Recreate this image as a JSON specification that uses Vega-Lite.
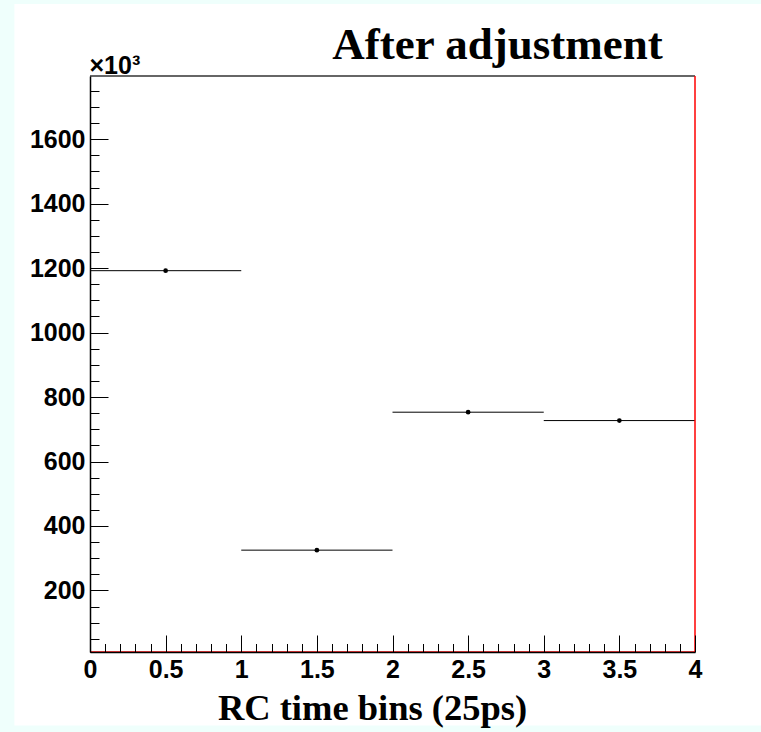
{
  "$schema": "https://vega.github.io/schema/vega-lite/v6.json",
  "width": 605,
  "height": 576,
  "autosize": "none",
  "padding": {"left": 90, "top": 76, "right": 66, "bottom": 80},
  "background": "#effffc",
  "title": {
    "text": "After adjustment",
    "font": "Liberation Serif",
    "fontSize": 45,
    "fontWeight": "bold",
    "color": "black",
    "frame": "group",
    "anchor": "middle",
    "dx": 105,
    "baseline": "alphabetic",
    "offset": -100
  },
  "data": {
    "values": [
      {"lo": 0, "hi": 1, "center": 0.5, "count_k": 1192},
      {"lo": 1, "hi": 2, "center": 1.5, "count_k": 325},
      {"lo": 2, "hi": 3, "center": 2.5, "count_k": 753},
      {"lo": 3, "hi": 4, "center": 3.5, "count_k": 727}
    ]
  },
  "layer": [
    {
      "data": {"values": [{"pad": "canvas"}]},
      "mark": {"type": "rect", "color": "white", "clip": false},
      "encoding": {
        "x": {"datum": -0.5, "type": "quantitative"},
        "x2": {"datum": 4.5},
        "y": {"datum": 2019, "type": "quantitative"},
        "y2": {"datum": -219}
      }
    },
    {
      "data": {"values": [{"edge": "top"}]},
      "mark": {"type": "rule", "color": "#333333", "strokeWidth": 1.5},
      "encoding": {"y": {"datum": 1796, "type": "quantitative"}}
    },
    {
      "mark": {"type": "rule", "color": "black", "strokeWidth": 1},
      "encoding": {
        "x": {
          "field": "lo",
          "type": "quantitative",
          "scale": {"domain": [0, 4], "nice": false, "zero": false},
          "axis": {
            "zindex": 1,
            "title": "RC time bins (25ps)",
            "titleFont": "Liberation Serif",
            "titleFontSize": 36.5,
            "titleFontWeight": "bold",
            "titleColor": "black",
            "titleX": 282,
            "titleY": 67,
            "titleAlign": "center",
            "titleAnchor": null,
            "titleBaseline": "alphabetic",
            "values": [0,0.1,0.2,0.3,0.4,0.5,0.6,0.7,0.8,0.9,1,1.1,1.2,1.3,1.4,1.5,1.6,1.7,1.8,1.9,2,2.1,2.2,2.3,2.4,2.5,2.6,2.7,2.8,2.9,3,3.1,3.2,3.3,3.4,3.5,3.6,3.7,3.8,3.9,4],
            "tickCount": 200,
            "format": "~g",
            "labelExpr": "abs(datum.value*2 - round(datum.value*2)) < 0.001 ? datum.label : ''",
            "tickSize": {"condition": {"test": "abs(datum.value*2 - round(datum.value*2)) < 0.001", "value": -17}, "value": -8.5},
            "tickColor": "black",
            "tickWidth": 1,
            "domainColor": "black",
            "domainWidth": 1.5,
            "labelFont": "Liberation Sans",
            "labelFontSize": 25,
            "labelFontWeight": "bold",
            "labelColor": "black",
            "labelBaseline": "top",
            "labelPadding": 22,
            "labelFlush": false,
            "labelOverlap": false,
            "grid": false
          }
        },
        "x2": {"field": "hi"},
        "y": {
          "field": "count_k",
          "type": "quantitative",
          "scale": {"domain": [9, 1796], "nice": false, "zero": false},
          "axis": {
            "zindex": 1,
            "title": "×10³",
            "titleAngle": 0,
            "titleX": -1,
            "titleY": -3,
            "titleAlign": "left",
            "titleAnchor": null,
            "titleBaseline": "alphabetic",
            "titleFont": "Liberation Sans",
            "titleFontSize": 25,
            "titleFontWeight": "bold",
            "titleColor": "black",
            "values": [50,100,150,200,250,300,350,400,450,500,550,600,650,700,750,800,850,900,950,1000,1050,1100,1150,1200,1250,1300,1350,1400,1450,1500,1550,1600,1650,1700,1750],
            "tickCount": 200,
            "format": "d",
            "labelExpr": "datum.value % 200 === 0 ? datum.label : ''",
            "tickSize": {"condition": {"test": "datum.value % 200 === 0", "value": -18}, "value": -9},
            "tickColor": "black",
            "tickWidth": 1,
            "domainColor": "black",
            "domainWidth": 1.5,
            "labelFont": "Liberation Sans",
            "labelFontSize": 25,
            "labelFontWeight": "bold",
            "labelColor": "black",
            "labelPadding": 23,
            "labelOverlap": false,
            "labelFlush": false,
            "grid": false
          }
        }
      }
    },
    {
      "mark": {"type": "point", "filled": true, "color": "black", "opacity": 1, "size": 22},
      "encoding": {
        "x": {"field": "center", "type": "quantitative", "title": "RC time bins (25ps)"},
        "y": {"field": "count_k", "type": "quantitative", "title": "×10³"}
      }
    },
    {
      "data": {"values": [{"edge": "right"}]},
      "mark": {"type": "rule", "color": "#ff0000", "strokeWidth": 1.5},
      "encoding": {"x": {"datum": 4, "type": "quantitative"}}
    },
    {
      "data": {"values": [{"edge": "bottom"}]},
      "mark": {"type": "rule", "color": "#ff0000", "strokeWidth": 1.5},
      "encoding": {"y": {"datum": 9, "type": "quantitative"}}
    }
  ],
  "config": {
    "view": {"stroke": null}
  }
}
